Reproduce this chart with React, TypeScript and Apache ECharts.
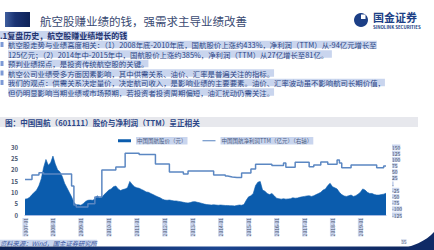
import React, { useEffect, useRef } from "react";
import * as echarts from "echarts";

const FONT = '"Noto Sans CJK SC", "Noto Sans", sans-serif';

const years = [2007, 2008, 2009, 2010, 2011, 2012, 2013, 2014, 2015, 2016, 2017, 2018, 2019];
const months = ["01", "02", "03", "04", "05", "06", "07", "08", "09", "10", "11", "12"];
const categories: string[] = [];
years.forEach((y) => months.forEach((m) => categories.push(`${y}-${m}`)));

// 中国国航股价（元） monthly
const priceValues = [
  7, 7.2, 7.8, 9, 10, 11, 13, 16, 21, 24.5, 22, 23,
  26, 22.5, 20, 19, 17, 14, 12, 10, 8, 5.5, 4.5, 4.5,
  4.3, 5, 6, 6.5, 6.6, 6.5, 7, 8.5, 7.5, 7.8, 9, 10,
  11, 11.5, 12.5, 12.8, 11.5, 10.8, 11.2, 11.5, 12, 14.8, 13.5, 12.5,
  12, 11.8, 11.3, 10.8, 10.2, 10, 9.5, 9, 8.5, 8, 7.6, 7,
  6.6, 6.5, 6.6, 6.4, 6.2, 6.2, 6, 5.8, 5.6, 5.4, 5.3, 5.5,
  5.8, 5.9, 5.6, 5.4, 5.1, 4.8, 4.6, 4.5, 4.4, 4.5, 4.4, 4.3,
  4.4, 4.3, 4.2, 4.2, 4.1, 4.1, 4, 4.2, 4.4, 4.3, 4.6, 6.5,
  8, 8.5, 9.5, 13, 14.5, 14.8, 11, 10.5, 9.5, 9, 9.5, 8.5,
  7.4, 7.2, 7, 7.2, 7, 7.1, 7.2, 7.6, 7.4, 7.5, 7.8, 8,
  8.2, 8.4, 8.5, 8.2, 8.5, 9, 9.5, 10, 11, 11.5, 13, 14,
  12.5, 12, 11.5, 10, 9, 8.4, 8.2, 8.5, 8.8, 8.2, 8.5, 9.2,
  10, 11.5, 11, 10, 9.5, 9.5, 9, 8.8, 8.8, 9, 9.2, 9.6,
];

// 中国国航净利润TTM（亿元） monthly
const profitValues = [
  19, 19, 19, 37, 37, 37, 46, 46, 41, 41, 41, 41,
  41, 41, 41, 41, 41, 41, 41, 41, -8, -85, -93, -93,
  -93, -93, -93, -80, -80, -80, -52, -52, -52, 57, 57, 57,
  57, 57, 57, 69, 69, 69, 69, 125, 125, 125, 125, 125,
  125, 120, 120, 120, 120, 120, 120, 120, 81, 81, 81, 81,
  81, 81, 49, 49, 49, 49, 49, 49, 41, 41, 53, 53,
  53, 53, 53, 53, 53, 53, 53, 53, 53, 37, 37, 37,
  37, 37, 33, 31, 29, 28, 27, 27, 27, 45, 45, 45,
  45, 61, 61, 80, 80, 80, 80, 80, 80, 80, 75, 75,
  75, 75, 75, 85, 68, 68, 68, 68, 88, 88, 88, 88,
  88, 88, 70, 70, 77, 77, 77, 89, 89, 89, 80, 80,
  80, 80, 97, 85, 66, 66, 66, 66, 77, 77, 77, 77,
  77, 77, 77, 77, 77, 77, 77, 66, 66, 66, 73, 73,
];

const leftTicks = { min: 0, max: 30, interval: 5 };
const rightTicks = { min: -125, max: 150, interval: 25 };

const seriesNames = ["中国国航股价（元）", "中国国航净利润TTM（亿元）（右轴）"];

const bodyLines = [
  "航空股走势与业绩高度相关：（1）2008年底-2010年底，国航股价上涨约433%，净利润（TTM）从-94亿元增长至",
  "125亿元；（2）2014年中-2015年中，国航股价上涨约385%，净利润（TTM）从27亿增长至81亿。",
  "预判业绩拐点，是投资传统航空股的关键。",
  "航空公司业绩受多方面因素影响，其中供需关系、油价、汇率是普遍关注的指标。",
  "我们的观点：供需关系决定量价，决定航司收入，是影响业绩的主要要素。油价、汇率波动虽不影响航司长期价值，",
  "但仍明显影响当期业绩或市场预期，若投资者投资周期偏短，油汇扰动仍需关注。",
];
const bodyY = [44.5, 54, 63.5, 73, 82.5, 92];
const bulletY = [44.5, 63.5, 73, 82.5];

const HL = "#c9d5ee";

let registered = false;
function registerShapes() {
  if (registered) return;
  registered = true;
  echarts.graphic.registerShape(
    "swoosh",
    echarts.graphic.extendPath("M0,18 C18,15 31,9 39,0 L39,18 Z", {}) as any
  );
}

export default function App() {
  const ref = useRef<HTMLDivElement>(null);
  useEffect(() => {
    document.body.style.margin = "0";
    registerShapes();
    const chart = echarts.init(ref.current!, null, { renderer: "svg" });

    const text = (x: number, y: number, t: string, font: string, fill: string, extra: any = {}) => ({
      type: "text",
      x,
      y,
      silent: true,
      style: {
        text: t,
        font,
        fill,
        verticalAlign: "middle",
        textVerticalAlign: "middle",
        ...extra,
      },
    });

    const graphics: any[] = [
      {
        type: "rect",
        shape: { x: 5, y: 12, width: 25, height: 15 },
        style: {
          fill: new echarts.graphic.LinearGradient(0, 0, 1, 0, [
            { offset: 0, color: "#3f5e9e" },
            { offset: 0.4, color: "#1a3373" },
            { offset: 1, color: "#0d2258" },
          ]),
        },
      },
      text(40, 21, "航空股赚业绩的钱，强需求主导业绩改善", `11.5px ${FONT}`, "#3a4a72"),
      { type: "circle", shape: { cx: 361, cy: 20, r: 7 }, style: { fill: "#1c3f86" } },
      { type: "rect", shape: { x: 361, y: 14.5, width: 4.5, height: 4.5 }, style: { fill: "#ffffff" } },
      text(373, 17, "国金证券", `bold 11px ${FONT}`, "#1c3f86", { lineHeight: 11 }),
      text(373, 26.5, "SINOLINK SECURITIES", `bold 4.4px ${FONT}`, "#1c3f86", { lineHeight: 4.4 }),
      text(0, 35, ".1复盘历史，航空股赚业绩增长的钱", `bold 8px ${FONT}`, "#1f3370", {
        backgroundColor: HL,
        lineHeight: 8,
      }),
      ...bulletY.map((y) => ({
        type: "rect",
        shape: { x: 0.5, y: y - 2.5, width: 3, height: 5 },
        style: { fill: "#7d9ad6" },
      })),
      ...bodyLines.map((t, i) =>
        text(8, bodyY[i], t, `7.4px ${FONT}`, "#2c4585", { backgroundColor: HL, lineHeight: 7.6 })
      ),
      { type: "rect", shape: { x: 0, y: 117, width: 418, height: 10 }, style: { fill: "#e7e8ed" } },
      text(5, 122, "图：中国国航（601111）股价与净利润（TTM）呈正相关", `bold 7.6px ${FONT}`, "#2b4587"),
      text(0, 243, "资料来源：Wind，国金证券研究所", `italic 6.3px ${FONT}`, "#3a55a0", {
        backgroundColor: HL,
        lineHeight: 6.5,
      }),
      {
        type: "rect",
        shape: { x: 0, y: 246.5, width: 434, height: 3.5 },
        style: {
          fill: new echarts.graphic.LinearGradient(0, 0, 1, 0, [
            { offset: 0, color: "#0c2256" },
            { offset: 0.5, color: "#1b4590" },
            { offset: 1, color: "#0c2256" },
          ]),
        },
      },
      { type: "swoosh", x: 395, y: 232, style: { fill: "#0f2a66" } },
      text(401, 241.5, "35", `5px ${FONT}`, "#6a7590", { backgroundColor: "#dde3f0", lineHeight: 5 }),
    ];

    chart.setOption({
      animation: false,
      backgroundColor: "#ffffff",
      textStyle: { fontFamily: FONT },
      grid: { left: 25, right: 48, top: 147, bottom: 35, containLabel: false },
      legend: {
        left: 113,
        top: 132,
        itemWidth: 13,
        itemHeight: 3,
        itemGap: 15,
        textStyle: {
          fontSize: 5.5,
          color: "#4a5a80",
          backgroundColor: HL,
          padding: [1, 1],
          fontFamily: FONT,
        },
        data: [
          { name: seriesNames[0], icon: "rect" },
          { name: seriesNames[1], icon: "path://M0,0H20V1.6H0Z" },
        ],
      },
      xAxis: {
        type: "category",
        data: categories,
        boundaryGap: false,
        axisTick: { show: false },
        axisLine: { lineStyle: { color: "#a7bbe3", width: 1 } },
        axisLabel: {
          interval: 11,
          rotate: 90,
          fontSize: 5,
          color: "#4b5670",
          backgroundColor: HL,
          margin: 3,
          fontFamily: FONT,
        },
        splitLine: { show: false },
      },
      yAxis: [
        {
          type: "value",
          position: "left",
          ...leftTicks,
          axisLine: { show: false },
          axisTick: { show: false },
          splitLine: { show: false },
          axisLabel: { fontSize: 6, fontWeight: "bold", color: "#4b5670", margin: 7, fontFamily: FONT },
        },
        {
          type: "value",
          position: "right",
          ...rightTicks,
          axisLine: { show: false },
          axisTick: { show: false },
          splitLine: { show: false },
          axisLabel: {
            fontSize: 5,
            color: "#4b5670",
            backgroundColor: HL,
            margin: 6,
            fontFamily: FONT,
            formatter: (v: number) => (v === 0 ? "-" : String(v)),
          },
        },
      ],
      series: [
        {
          name: seriesNames[0],
          type: "line",
          yAxisIndex: 0,
          data: priceValues,
          symbol: "none",
          lineStyle: { width: 0.6, color: "#0b5cad" },
          itemStyle: { color: "#0b5cad" },
          areaStyle: { color: "#0b5cad", opacity: 1 },
          z: 2,
        },
        {
          name: seriesNames[1],
          type: "line",
          yAxisIndex: 1,
          data: profitValues,
          step: "end",
          symbol: "none",
          lineStyle: { width: 1.5, color: "#5b87c2" },
          itemStyle: { color: "#5b87c2" },
          z: 3,
        },
      ],
      graphic: graphics,
    });
    return () => chart.dispose();
  }, []);
  return <div ref={ref} style={{ width: 434, height: 250 }} />;
}
